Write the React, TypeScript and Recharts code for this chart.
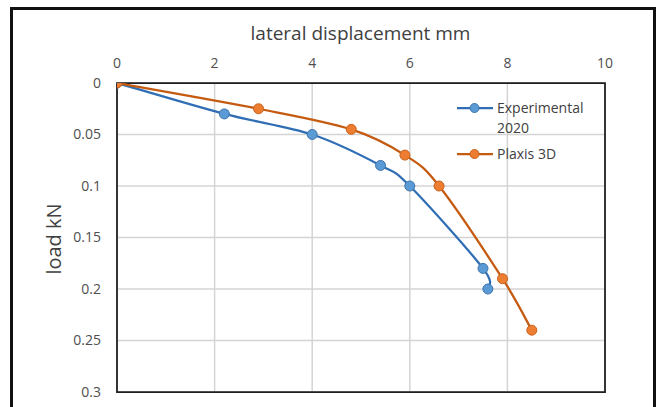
import React from 'react';
import {
  LineChart,
  Line,
  XAxis,
  YAxis,
  CartesianGrid,
  Legend,
  ReferenceArea,
} from 'recharts';

// Lateral displacement (mm) against load (kN)
const experimentalDisp = [0, 2.2, 4.0, 5.4, 6.0, 7.5, 7.6];
const experimentalLoad = [0, 0.03, 0.05, 0.08, 0.1, 0.18, 0.2];

const plaxisDisp = [0, 2.9, 4.8, 5.9, 6.6, 7.9, 8.5];
const plaxisLoad = [0, 0.025, 0.045, 0.07, 0.1, 0.19, 0.24];

const dispTicks = [0, 2, 4, 6, 8, 10];
const loadTicks = [0, 0.05, 0.1, 0.15, 0.2, 0.25, 0.3];

const seriesNames = ['Experimental 2020', 'Plaxis 3D'];

const toPoints = (xs: number[], ys: number[]) => xs.map((x, i) => ({ x, y: ys[i] }));

const experimentalData = toPoints(experimentalDisp, experimentalLoad);
const plaxisData = toPoints(plaxisDisp, plaxisLoad);

const FONT = '"Open Sans", "Noto Sans", sans-serif';

const BLUE_LINE = '#2F6EB5';
const BLUE_DOT = '#5B9BD5';
const BLUE_EDGE = '#3F74AC';
const ORANGE_LINE = '#C55A11';
const ORANGE_DOT = '#ED7D31';
const ORANGE_EDGE = '#C9621A';

// Smoothed line through every point (uniform Catmull-Rom as cubic Béziers)
const smoothCurve = (context: any) => {
  let pts: [number, number][] = [];
  return {
    areaStart() {},
    areaEnd() {},
    lineStart() {
      pts = [];
    },
    point(x: number, y: number) {
      pts.push([+x, +y]);
    },
    lineEnd() {
      if (!pts.length) return;
      context.moveTo(pts[0][0], pts[0][1]);
      for (let i = 0; i < pts.length - 1; i++) {
        const p0 = pts[Math.max(i - 1, 0)];
        const p1 = pts[i];
        const p2 = pts[i + 1];
        const p3 = pts[Math.min(i + 2, pts.length - 1)];
        context.bezierCurveTo(
          p1[0] + (p2[0] - p0[0]) / 6,
          p1[1] + (p2[1] - p0[1]) / 6,
          p2[0] - (p3[0] - p1[0]) / 6,
          p2[1] - (p3[1] - p1[1]) / 6,
          p2[0],
          p2[1],
        );
      }
    },
  };
};

const legendColors: Record<string, [string, string, string]> = {
  [seriesNames[0]]: [BLUE_LINE, BLUE_DOT, BLUE_EDGE],
  [seriesNames[1]]: [ORANGE_LINE, ORANGE_DOT, ORANGE_EDGE],
};

const renderLegend = (props: any) => {
  const payload = props.payload || [];
  return (
    <div style={{ fontFamily: FONT, fontSize: 14, color: '#404040' }}>
      {payload.map((entry: any, i: number) => {
        const [line, dot, edge] = legendColors[entry.value] || [entry.color, entry.color, entry.color];
        return (
          <div
            key={entry.value}
            style={{ display: 'flex', alignItems: 'flex-start', marginTop: i === 0 ? 0 : 6 }}
          >
            <svg width={40} height={20} style={{ flex: 'none' }}>
              <line x1={2} y1={10} x2={38} y2={10} stroke={line} strokeWidth={2.25} />
              <circle cx={19.5} cy={10} r={4.5} fill={dot} stroke={edge} strokeWidth={1} />
            </svg>
            <div style={{ marginLeft: 2, width: 100, lineHeight: '20px' }}>{entry.value}</div>
          </div>
        );
      })}
    </div>
  );
};

export default function App() {
  return (
    <div
      style={{
        position: 'absolute',
        left: 0,
        top: 0,
        width: 659,
        height: 407,
        overflow: 'hidden',
        background: '#ffffff',
      }}
    >
      {/* outer frame */}
      <div
        style={{
          position: 'absolute',
          left: 10,
          top: 7,
          width: 646,
          height: 430,
          border: '3px solid #111111',
          boxSizing: 'border-box',
        }}
      />
      <div
        style={{
          position: 'absolute',
          left: 0,
          top: 24,
          width: 721,
          textAlign: 'center',
          fontFamily: FONT,
          fontSize: 19,
          lineHeight: '19px',
          color: '#404040',
          whiteSpace: 'nowrap',
        }}
      >
        lateral displacement mm
      </div>
      <div
        style={{
          position: 'absolute',
          left: 54,
          top: 239,
          transform: 'translate(-50%, -50%) rotate(-90deg)',
          fontFamily: FONT,
          fontSize: 20,
          lineHeight: '20px',
          color: '#404040',
          whiteSpace: 'nowrap',
        }}
      >
        load kN
      </div>
      <LineChart
        width={659}
        height={407}
        margin={{ top: 53, right: 54, bottom: 15, left: 57 }}
        style={{ position: 'absolute', left: 0, top: 0 }}
      >
        <CartesianGrid stroke="#D4D4D4" strokeWidth={1.5} />
        <XAxis
          type="number"
          dataKey="x"
          orientation="top"
          domain={[0, 10]}
          ticks={dispTicks}
          height={30}
          axisLine={false}
          tickLine={false}
          tickSize={0}
          tickMargin={15}
          tick={{ fill: '#4F4F4F', fontSize: 14, fontFamily: FONT }}
          allowDataOverflow
        />
        <YAxis
          type="number"
          dataKey="y"
          reversed
          domain={[0, 0.3]}
          ticks={loadTicks}
          width={60}
          axisLine={false}
          tickLine={false}
          tickSize={0}
          tickMargin={16}
          tick={{ fill: '#4F4F4F', fontSize: 14, fontFamily: FONT }}
          allowDataOverflow
        />
        <ReferenceArea
          x1={0}
          x2={10}
          y1={0}
          y2={0.3}
          fill="none"
          fillOpacity={0}
          stroke="#1E1E1E"
          strokeWidth={1.75}
        />
        <Legend
          layout="vertical"
          align="center"
          verticalAlign="middle"
          content={renderLegend}
          wrapperStyle={{ left: 455, top: 98, width: 150 }}
        />
        <Line
          name={seriesNames[0]}
          data={experimentalData}
          dataKey="y"
          type={smoothCurve as any}
          stroke={BLUE_LINE}
          strokeWidth={2.25}
          dot={{ r: 5, fill: BLUE_DOT, stroke: BLUE_EDGE, strokeWidth: 1 }}
          activeDot={false}
          isAnimationActive={false}
        />
        <Line
          name={seriesNames[1]}
          data={plaxisData}
          dataKey="y"
          type={smoothCurve as any}
          stroke={ORANGE_LINE}
          strokeWidth={2.25}
          dot={{ r: 5, fill: ORANGE_DOT, stroke: ORANGE_EDGE, strokeWidth: 1 }}
          activeDot={false}
          isAnimationActive={false}
        />
      </LineChart>
    </div>
  );
}
